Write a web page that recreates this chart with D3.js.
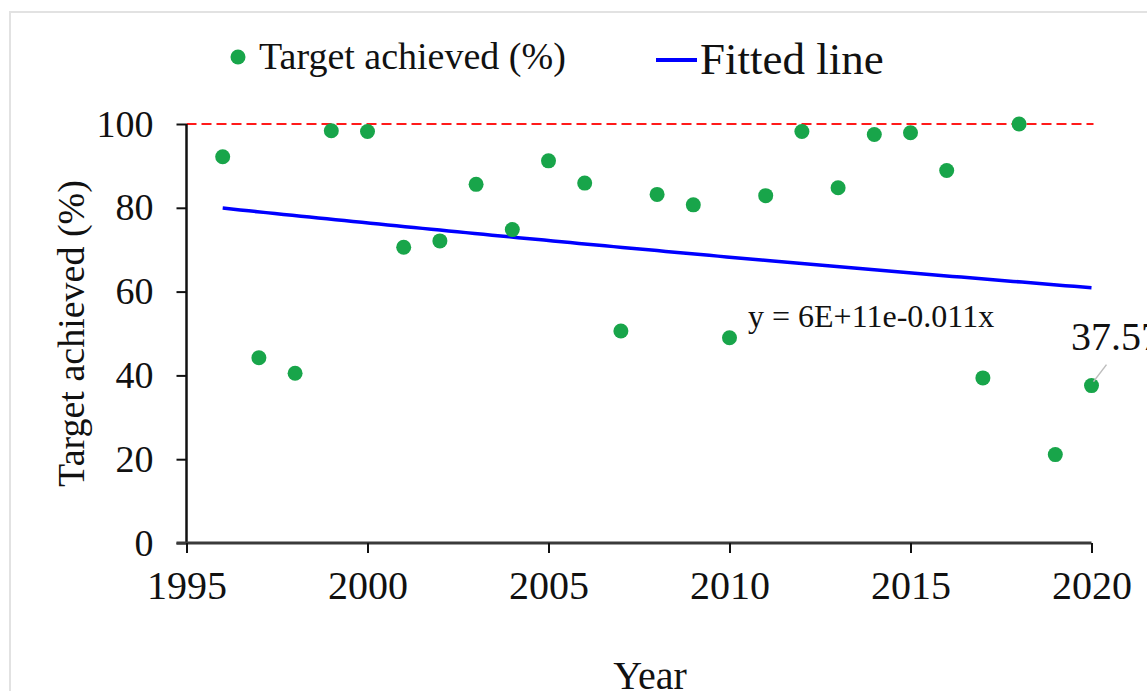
<!DOCTYPE html>
<html>
<head>
<meta charset="utf-8">
<script src="https://cdn.jsdelivr.net/npm/d3@7"></script>
<style>
  body { margin: 0; background: #fff; }
  svg { display: block; }
  svg text { font-family: "Liberation Serif", "Times New Roman", serif !important; fill: #111; }
</style>
</head>
<body>
<script>
// values
var years = [1996, 1997, 1998, 1999, 2000, 2001, 2002, 2003, 2004, 2005, 2006, 2007,
             2008, 2009, 2010, 2011, 2012, 2013, 2014, 2015, 2016, 2017, 2018, 2019, 2020];
var achieved = [92.2, 44.2, 40.5, 98.4, 98.2, 70.6, 72.1, 85.6, 74.8, 91.2, 85.9, 50.6,
                83.2, 80.7, 49.0, 82.9, 98.2, 84.8, 97.5, 97.9, 88.9, 39.4, 100, 21.1, 37.57];
var xTicks = [1995, 2000, 2005, 2010, 2015, 2020];
var yTicks = [0, 20, 40, 60, 80, 100];
var targetLine = 100;
var legendLabels = ["Target achieved (%)", "Fitted line"];
var equationText = "y = 6E+11e-0.011x";
var lastLabel = "37.57";

var width = 1147, height = 691;

var svg = d3.select("body").append("svg")
	.attr("width", width)
	.attr("height", height)
	.attr("font-family", "Liberation Serif");

// outer frame
svg.append("rect")
	.attr("x", 10).attr("y", 12)
	.attr("width", width + 20).attr("height", height + 20)
	.attr("fill", "none")
	.attr("stroke", "#e2e2e2")
	.attr("stroke-width", 2);

var x = d3.scaleLinear().domain([1995, 2020]).range([186.5, 1091.5]);
var y = d3.scaleLinear().domain([0, 100]).range([543, 124]);

// exponential trendline, least squares on ln(y) like a spreadsheet does
var n = years.length;
var mx = d3.mean(years);
var my = d3.mean(achieved, function(v) { return Math.log(v); });
var sxy = 0, sxx = 0;
for (var i = 0; i < n; i++) {
	sxy += (years[i] - mx) * (Math.log(achieved[i]) - my);
	sxx += (years[i] - mx) * (years[i] - mx);
}
var slope = sxy / sxx;
var intercept = my - slope * mx;
function fit(t) { return Math.exp(intercept + slope * t); }

var fitPts = d3.range(0, 101).map(function(k) {
	var t = years[0] + (years[n - 1] - years[0]) * k / 100;
	return [t, fit(t)];
});

// target line
svg.append("line")
	.attr("x1", x(1995)).attr("x2", x(2020) + 2)
	.attr("y1", y(targetLine)).attr("y2", y(targetLine))
	.attr("stroke", "#ff1a1a")
	.attr("stroke-width", 2.2)
	.attr("stroke-dasharray", "10,5");

// axes
var yAxis = svg.append("g")
	.attr("transform", "translate(" + x(1995) + ",0)")
	.call(d3.axisLeft(y).tickValues(yTicks).tickSize(10).tickPadding(23));
yAxis.attr("font-family", null);
yAxis.select(".domain").attr("stroke", "#111").attr("stroke-width", 2.5)
	.attr("d", "M0," + y(100) + "V" + y(0));
yAxis.selectAll(".tick line").attr("stroke", "#111").attr("stroke-width", 2);
yAxis.selectAll(".tick text")
	.style("font-size", "38px").attr("fill", "#111");

var xAxis = svg.append("g")
	.attr("transform", "translate(0," + y(0) + ")")
	.call(d3.axisBottom(x).tickValues(xTicks).tickFormat(d3.format("d")).tickSize(10).tickPadding(18));
xAxis.attr("font-family", null);
xAxis.select(".domain").attr("stroke", "#3a3a3a").attr("stroke-width", 3)
	.attr("d", "M" + (x(1995) - 10) + ",0H" + x(2020));
xAxis.selectAll(".tick line").attr("stroke", "#111").attr("stroke-width", 2);
xAxis.selectAll(".tick text")
	.style("font-size", "40px").attr("fill", "#111");

// fitted line
svg.append("path")
	.datum(fitPts)
	.attr("fill", "none")
	.attr("stroke", "#0000ff")
	.attr("stroke-width", 3.5)
	.attr("d", d3.line().x(function(d) { return x(d[0]); }).y(function(d) { return y(d[1]); }));

// points
svg.append("g").selectAll("circle")
	.data(years)
	.enter().append("circle")
	.attr("cx", function(d) { return x(d); })
	.attr("cy", function(d, i) { return y(achieved[i]); })
	.attr("r", 7.5)
	.attr("fill", "#18a54a");

// equation
svg.append("text")
	.attr("x", 748).attr("y", 327)
	.style("font-size", "32px")
	.text(equationText);

// label on last point with leader line
svg.append("line")
	.attr("x1", x(2020) + 2).attr("y1", y(achieved[n - 1]) - 4)
	.attr("x2", x(2020) + 15).attr("y2", y(achieved[n - 1]) - 21)
	.attr("stroke", "#bdbdbd").attr("stroke-width", 1.5);
svg.append("text")
	.attr("x", 1071).attr("y", 350)
	.style("font-size", "40px")
	.text(lastLabel);

// axis titles
svg.append("text")
	.attr("transform", "translate(84," + ((y(0) + y(100)) / 2) + ") rotate(-90)")
	.attr("text-anchor", "middle")
	.style("font-size", "38px")
	.text("Target achieved (%)");
svg.append("text")
	.attr("x", 650).attr("y", 689)
	.attr("text-anchor", "middle")
	.style("font-size", "40px")
	.text("Year");

// legend
var lg = svg.append("g");
lg.append("circle").attr("cx", 238).attr("cy", 57).attr("r", 7.5).attr("fill", "#18a54a");
lg.append("text").attr("x", 259).attr("y", 69).style("font-size", "38px").text(legendLabels[0]);
lg.append("line").attr("x1", 656).attr("x2", 697).attr("y1", 60).attr("y2", 60)
	.attr("stroke", "#0000ff").attr("stroke-width", 4);
lg.append("text").attr("x", 700).attr("y", 74).style("font-size", "45px").text(legendLabels[1]);
</script>
</body>
</html>
